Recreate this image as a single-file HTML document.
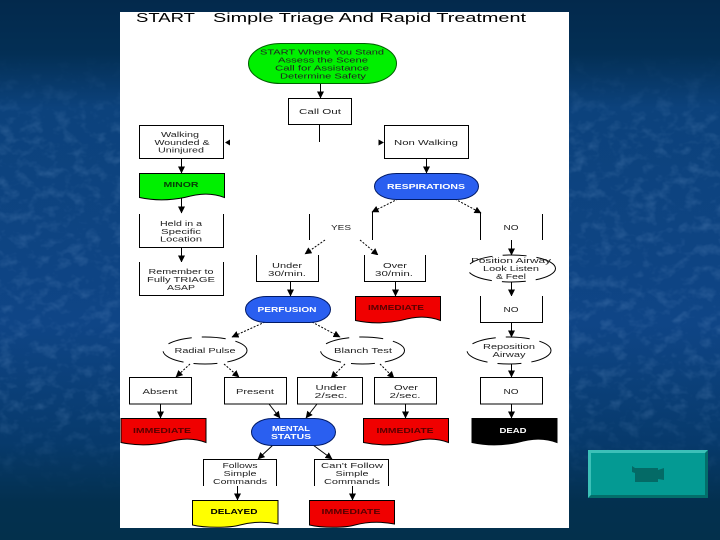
<!DOCTYPE html>
<html>
<head>
<meta charset="utf-8">
<style>
html,body{margin:0;padding:0;background:#04305a;}
svg{display:block;}
text{font-family:"Liberation Sans",sans-serif;font-size:7.5px;fill:#222;text-anchor:middle;}
.t{font-size:13px;fill:#000;text-anchor:start;}
.b{font-weight:bold;font-size:7.5px;}
.w{fill:#fff;}
.k{fill:#5a0000;}
.box{fill:#fff;stroke:#000;stroke-width:1;}
.l{stroke:#000;stroke-width:1;fill:none;}
.d{stroke:#000;stroke-width:1;fill:none;stroke-dasharray:2 1.5;}
.e{fill:#fff;stroke:#000;stroke-width:1;stroke-dasharray:24 10;}
</style>
</head>
<body>
<svg width="720" height="540" viewBox="0 0 720 540" xmlns="http://www.w3.org/2000/svg">
<defs>
<linearGradient id="bg" x1="0" y1="0" x2="0" y2="1">
<stop offset="0" stop-color="#03294c"/>
<stop offset="0.1" stop-color="#032f55"/>
<stop offset="0.2" stop-color="#0c427c"/>
<stop offset="0.6" stop-color="#0f4586"/>
<stop offset="0.82" stop-color="#073a6c"/>
<stop offset="0.93" stop-color="#03304f"/>
<stop offset="1" stop-color="#03304c"/>
</linearGradient>
<filter id="tex" x="0" y="0" width="100%" height="100%">
<feTurbulence type="fractalNoise" baseFrequency="0.07 0.09" numOctaves="3" seed="5"/>
<feColorMatrix values="0 0 0 0 0.3  0 0 0 0 0.5  0 0 0 0 0.8  1.4 0 0 0 -0.66"/>
</filter>
<linearGradient id="fade" x1="0" y1="0" x2="0" y2="1">
<stop offset="0.1" stop-color="#000"/>
<stop offset="0.25" stop-color="#fff"/>
<stop offset="0.75" stop-color="#fff"/>
<stop offset="0.92" stop-color="#000"/>
</linearGradient>
<mask id="m"><rect width="720" height="540" fill="url(#fade)"/></mask>
<marker id="a" markerWidth="7" markerHeight="7" refX="6.500" refY="3.500" orient="auto" markerUnits="userSpaceOnUse"><path d="M0 0L7 3.500L0 7Z" fill="#000"/></marker>
<path id="doc" d="M0 0H85V24C72 19 60 20 45 24C30 27 14 27 0 24Z" stroke="#000" stroke-width="1"/>
</defs>

<rect width="720" height="540" fill="url(#bg)"/>
<rect width="720" height="540" filter="url(#tex)" mask="url(#m)" opacity="0.3"/>

<rect x="120" y="12" width="449" height="516" fill="#fff"/>

<text class="t" x="136" y="22" textLength="59" lengthAdjust="spacingAndGlyphs">START</text>
<text class="t" x="213" y="22" textLength="313" lengthAdjust="spacingAndGlyphs">Simple Triage And Rapid Treatment</text>

<!-- connectors -->
<path class="l" d="M320.500 84V98" marker-end="url(#a)"/>
<path class="l" d="M181.500 158V173" marker-end="url(#a)"/>
<path class="l" d="M426.500 158V173" marker-end="url(#a)"/>
<path class="l" d="M181.500 198V213" marker-end="url(#a)"/>
<path class="l" d="M181.500 247V262" marker-end="url(#a)"/>
<path class="l" d="M290.500 281V296" marker-end="url(#a)"/>
<path class="l" d="M395.500 281V296" marker-end="url(#a)"/>
<path class="l" d="M511.500 240V255" marker-end="url(#a)"/>
<path class="l" d="M511.500 282V296" marker-end="url(#a)"/>
<path class="l" d="M511.500 322V337" marker-end="url(#a)"/>
<path class="l" d="M511.500 364V377" marker-end="url(#a)"/>
<path class="l" d="M511.500 404V418" marker-end="url(#a)"/>
<path class="l" d="M160.500 404V418" marker-end="url(#a)"/>
<path class="l" d="M405.500 404V418" marker-end="url(#a)"/>
<path class="l" d="M237.500 486V500" marker-end="url(#a)"/>
<path class="l" d="M352.500 486V500" marker-end="url(#a)"/>
<path class="l" d="M269 404L280 418" marker-end="url(#a)"/>
<path class="l" d="M317 404L306 418" marker-end="url(#a)"/>
<path class="l" d="M273 445L258 459" marker-end="url(#a)"/>
<path class="l" d="M313 445L332 459" marker-end="url(#a)"/>
<path d="M225 142.500L230 139.500V145.500Z" fill="#000"/>
<path d="M384 142.500L378.500 139.500V145.500Z" fill="#000"/>
<path class="l" d="M319.500 124V142"/>
<path class="l" d="M372.500 212V240M480.500 212V240M309.500 214V240M542.500 214V240"/>
<path class="d" d="M398 199L372 212" marker-end="url(#a)"/>
<path class="d" d="M455 199L481 213" marker-end="url(#a)"/>
<path class="d" d="M325 240L305 254" marker-end="url(#a)"/>
<path class="d" d="M360 240L378 255" marker-end="url(#a)"/>
<path class="d" d="M265 322L232 337" marker-end="url(#a)"/>
<path class="d" d="M312 322L340 337" marker-end="url(#a)"/>
<path class="d" d="M190 364L176 377" marker-end="url(#a)"/>
<path class="d" d="M224 364L239 377" marker-end="url(#a)"/>
<path class="d" d="M345 364L331 378" marker-end="url(#a)"/>
<path class="d" d="M380 364L394 378" marker-end="url(#a)"/>

<!-- top pill -->
<rect x="248.500" y="43.500" width="148" height="40" rx="32" ry="20" fill="#00f000" stroke="#006000"/>
<text x="322" y="54.500" textLength="124" lengthAdjust="spacingAndGlyphs">START Where You Stand</text>
<text x="323" y="62.500" textLength="90" lengthAdjust="spacingAndGlyphs">Assess the Scene</text>
<text x="322" y="70.500" textLength="94" lengthAdjust="spacingAndGlyphs">Call for Assistance</text>
<text x="323" y="78.500" textLength="86" lengthAdjust="spacingAndGlyphs">Determine Safety</text>

<rect class="box" x="288.500" y="98.500" width="63" height="26"/>
<text x="320" y="114" textLength="42" lengthAdjust="spacingAndGlyphs">Call Out</text>

<rect class="box" x="139.500" y="125.500" width="84" height="33"/>
<text x="180" y="137" textLength="38" lengthAdjust="spacingAndGlyphs">Walking</text>
<text x="182" y="145" textLength="55" lengthAdjust="spacingAndGlyphs">Wounded &amp;</text>
<text x="181" y="152.500" textLength="46" lengthAdjust="spacingAndGlyphs">Uninjured</text>

<rect class="box" x="384.500" y="125.500" width="84" height="33"/>
<text x="426" y="145" textLength="64" lengthAdjust="spacingAndGlyphs">Non  Walking</text>

<!-- minor -->
<use href="#doc" x="139.500" y="173.500" fill="#00f000"/>
<text class="b" x="181" y="187" textLength="35" lengthAdjust="spacingAndGlyphs" style="fill:#064006">MINOR</text>

<!-- respirations -->
<rect x="374.500" y="173.500" width="104" height="26" rx="22" ry="13" fill="#2a5ff0" stroke="#001a66"/>
<text class="b w" x="426" y="189" textLength="78" lengthAdjust="spacingAndGlyphs">RESPIRATIONS</text>

<!-- held -->
<path class="box" d="M139.500 214V247.500H223.500V214"/>
<text x="181" y="226" textLength="42" lengthAdjust="spacingAndGlyphs">Held in a</text>
<text x="181" y="234" textLength="40" lengthAdjust="spacingAndGlyphs">Specific</text>
<text x="181" y="241.500" textLength="42" lengthAdjust="spacingAndGlyphs">Location</text>

<path class="box" d="M139.500 262V295.500H223.500V262"/>
<text x="181" y="274" textLength="65" lengthAdjust="spacingAndGlyphs">Remember to</text>
<text x="181" y="282" textLength="68" lengthAdjust="spacingAndGlyphs">Fully TRIAGE</text>
<text x="181" y="290" textLength="28" lengthAdjust="spacingAndGlyphs">ASAP</text>

<text x="341" y="230" textLength="20" lengthAdjust="spacingAndGlyphs">YES</text>
<text x="511" y="230" textLength="15" lengthAdjust="spacingAndGlyphs">NO</text>

<path class="box" d="M256.500 255V281.500H318.500V255"/>
<text x="287" y="268" textLength="30" lengthAdjust="spacingAndGlyphs">Under</text>
<text x="287" y="276" textLength="38" lengthAdjust="spacingAndGlyphs">30/min.</text>

<path class="box" d="M364.500 255V281.500H425.500V255"/>
<text x="395" y="268" textLength="24" lengthAdjust="spacingAndGlyphs">Over</text>
<text x="394" y="276" textLength="38" lengthAdjust="spacingAndGlyphs">30/min.</text>

<ellipse class="e" cx="511.500" cy="268.500" rx="44" ry="13.500"/>
<text x="511" y="263" textLength="80" lengthAdjust="spacingAndGlyphs">Position Airway</text>
<text x="511" y="271" textLength="56" lengthAdjust="spacingAndGlyphs">Look Listen</text>
<text x="511" y="279" textLength="30" lengthAdjust="spacingAndGlyphs">&amp; Feel</text>

<!-- perfusion -->
<rect x="245.500" y="296.500" width="85" height="26" rx="21" ry="13" fill="#2a5ff0" stroke="#001a66"/>
<text class="b w" x="287" y="312" textLength="59" lengthAdjust="spacingAndGlyphs">PERFUSION</text>

<use href="#doc" x="355.500" y="296.500" fill="#f00000"/>
<text class="b k" x="396" y="310" textLength="56" lengthAdjust="spacingAndGlyphs">IMMEDIATE</text>

<path class="box" d="M480.500 296V322.500H542.500V296"/>
<text x="511" y="312" textLength="15" lengthAdjust="spacingAndGlyphs">NO</text>

<ellipse class="e" cx="205" cy="350.500" rx="42" ry="13.500"/>
<text x="205" y="353" textLength="61" lengthAdjust="spacingAndGlyphs">Radial Pulse</text>
<ellipse class="e" cx="362.500" cy="350.500" rx="42" ry="13.500"/>
<text x="363" y="353" textLength="58" lengthAdjust="spacingAndGlyphs">Blanch Test</text>
<ellipse class="e" cx="509" cy="350.500" rx="42" ry="13.500"/>
<text x="509" y="349" textLength="52" lengthAdjust="spacingAndGlyphs">Reposition</text>
<text x="509" y="357" textLength="33" lengthAdjust="spacingAndGlyphs">Airway</text>

<rect class="box" x="129.500" y="377.500" width="62" height="26.500"/>
<text x="160" y="394" textLength="35" lengthAdjust="spacingAndGlyphs">Absent</text>
<rect class="box" x="224.500" y="377.500" width="62" height="26.500"/>
<text x="255" y="394" textLength="38" lengthAdjust="spacingAndGlyphs">Present</text>
<rect class="box" x="297.500" y="377.500" width="65" height="26.500"/>
<text x="331" y="390" textLength="31" lengthAdjust="spacingAndGlyphs">Under</text>
<text x="331" y="398" textLength="33" lengthAdjust="spacingAndGlyphs">2/sec.</text>
<rect class="box" x="374.500" y="377.500" width="62" height="26.500"/>
<text x="406" y="390" textLength="24" lengthAdjust="spacingAndGlyphs">Over</text>
<text x="405" y="398" textLength="31" lengthAdjust="spacingAndGlyphs">2/sec.</text>
<rect class="box" x="480.500" y="377.500" width="62" height="26.500"/>
<text x="511" y="394" textLength="15" lengthAdjust="spacingAndGlyphs">NO</text>

<use href="#doc" x="121" y="418.500" fill="#f00000"/>
<text class="b k" x="162" y="433" textLength="58" lengthAdjust="spacingAndGlyphs">IMMEDIATE</text>

<rect x="251.500" y="418.500" width="84" height="27" rx="21" ry="13.500" fill="#2a5ff0" stroke="#001a66"/>
<text class="b w" x="291" y="431" textLength="38" lengthAdjust="spacingAndGlyphs">MENTAL</text>
<text class="b w" x="291" y="439" textLength="40" lengthAdjust="spacingAndGlyphs">STATUS</text>

<use href="#doc" x="363.500" y="418.500" fill="#f00000"/>
<text class="b k" x="405" y="433" textLength="57" lengthAdjust="spacingAndGlyphs">IMMEDIATE</text>

<use href="#doc" x="472" y="418.500" fill="#000"/>
<text class="b w" x="513" y="433" textLength="27" lengthAdjust="spacingAndGlyphs">DEAD</text>

<path class="box" d="M203.500 486V459.500H276.500V486"/>
<text x="240" y="468" textLength="35" lengthAdjust="spacingAndGlyphs">Follows</text>
<text x="240" y="476" textLength="33" lengthAdjust="spacingAndGlyphs">Simple</text>
<text x="240" y="484" textLength="54" lengthAdjust="spacingAndGlyphs">Commands</text>

<path class="box" d="M314.500 486V459.500H388.500V486"/>
<text x="352" y="468" textLength="62" lengthAdjust="spacingAndGlyphs">Can't Follow</text>
<text x="352" y="476" textLength="33" lengthAdjust="spacingAndGlyphs">Simple</text>
<text x="352" y="484" textLength="56" lengthAdjust="spacingAndGlyphs">Commands</text>

<path d="M192.500 500.500H278V524C268 522 255 521 240 525C230 528 205 528 192.500 525Z" fill="#ffff00" stroke="#000"/>
<text class="b" x="234" y="514" textLength="47" lengthAdjust="spacingAndGlyphs" style="fill:#000">DELAYED</text>
<path d="M309.500 500.500H394.500V524C384 522 370 521 355 525C345 528 322 528 309.500 525Z" fill="#f00000" stroke="#000"/>
<text class="b k" x="351" y="514" textLength="59" lengthAdjust="spacingAndGlyphs">IMMEDIATE</text>

<!-- video button -->
<rect x="588" y="450" width="120" height="48" fill="#049a93"/>
<path d="M588 450H708L705 453H591V495L588 498Z" fill="#3cc0b8"/>
<path d="M708 450V498H588L591 495H705V453Z" fill="#036e6a"/>
<path d="M632 466L635 468H658V470L664 468V480L658 479V482H635V473L632 472Z" fill="#046a66"/>
</svg>
</body>
</html>
